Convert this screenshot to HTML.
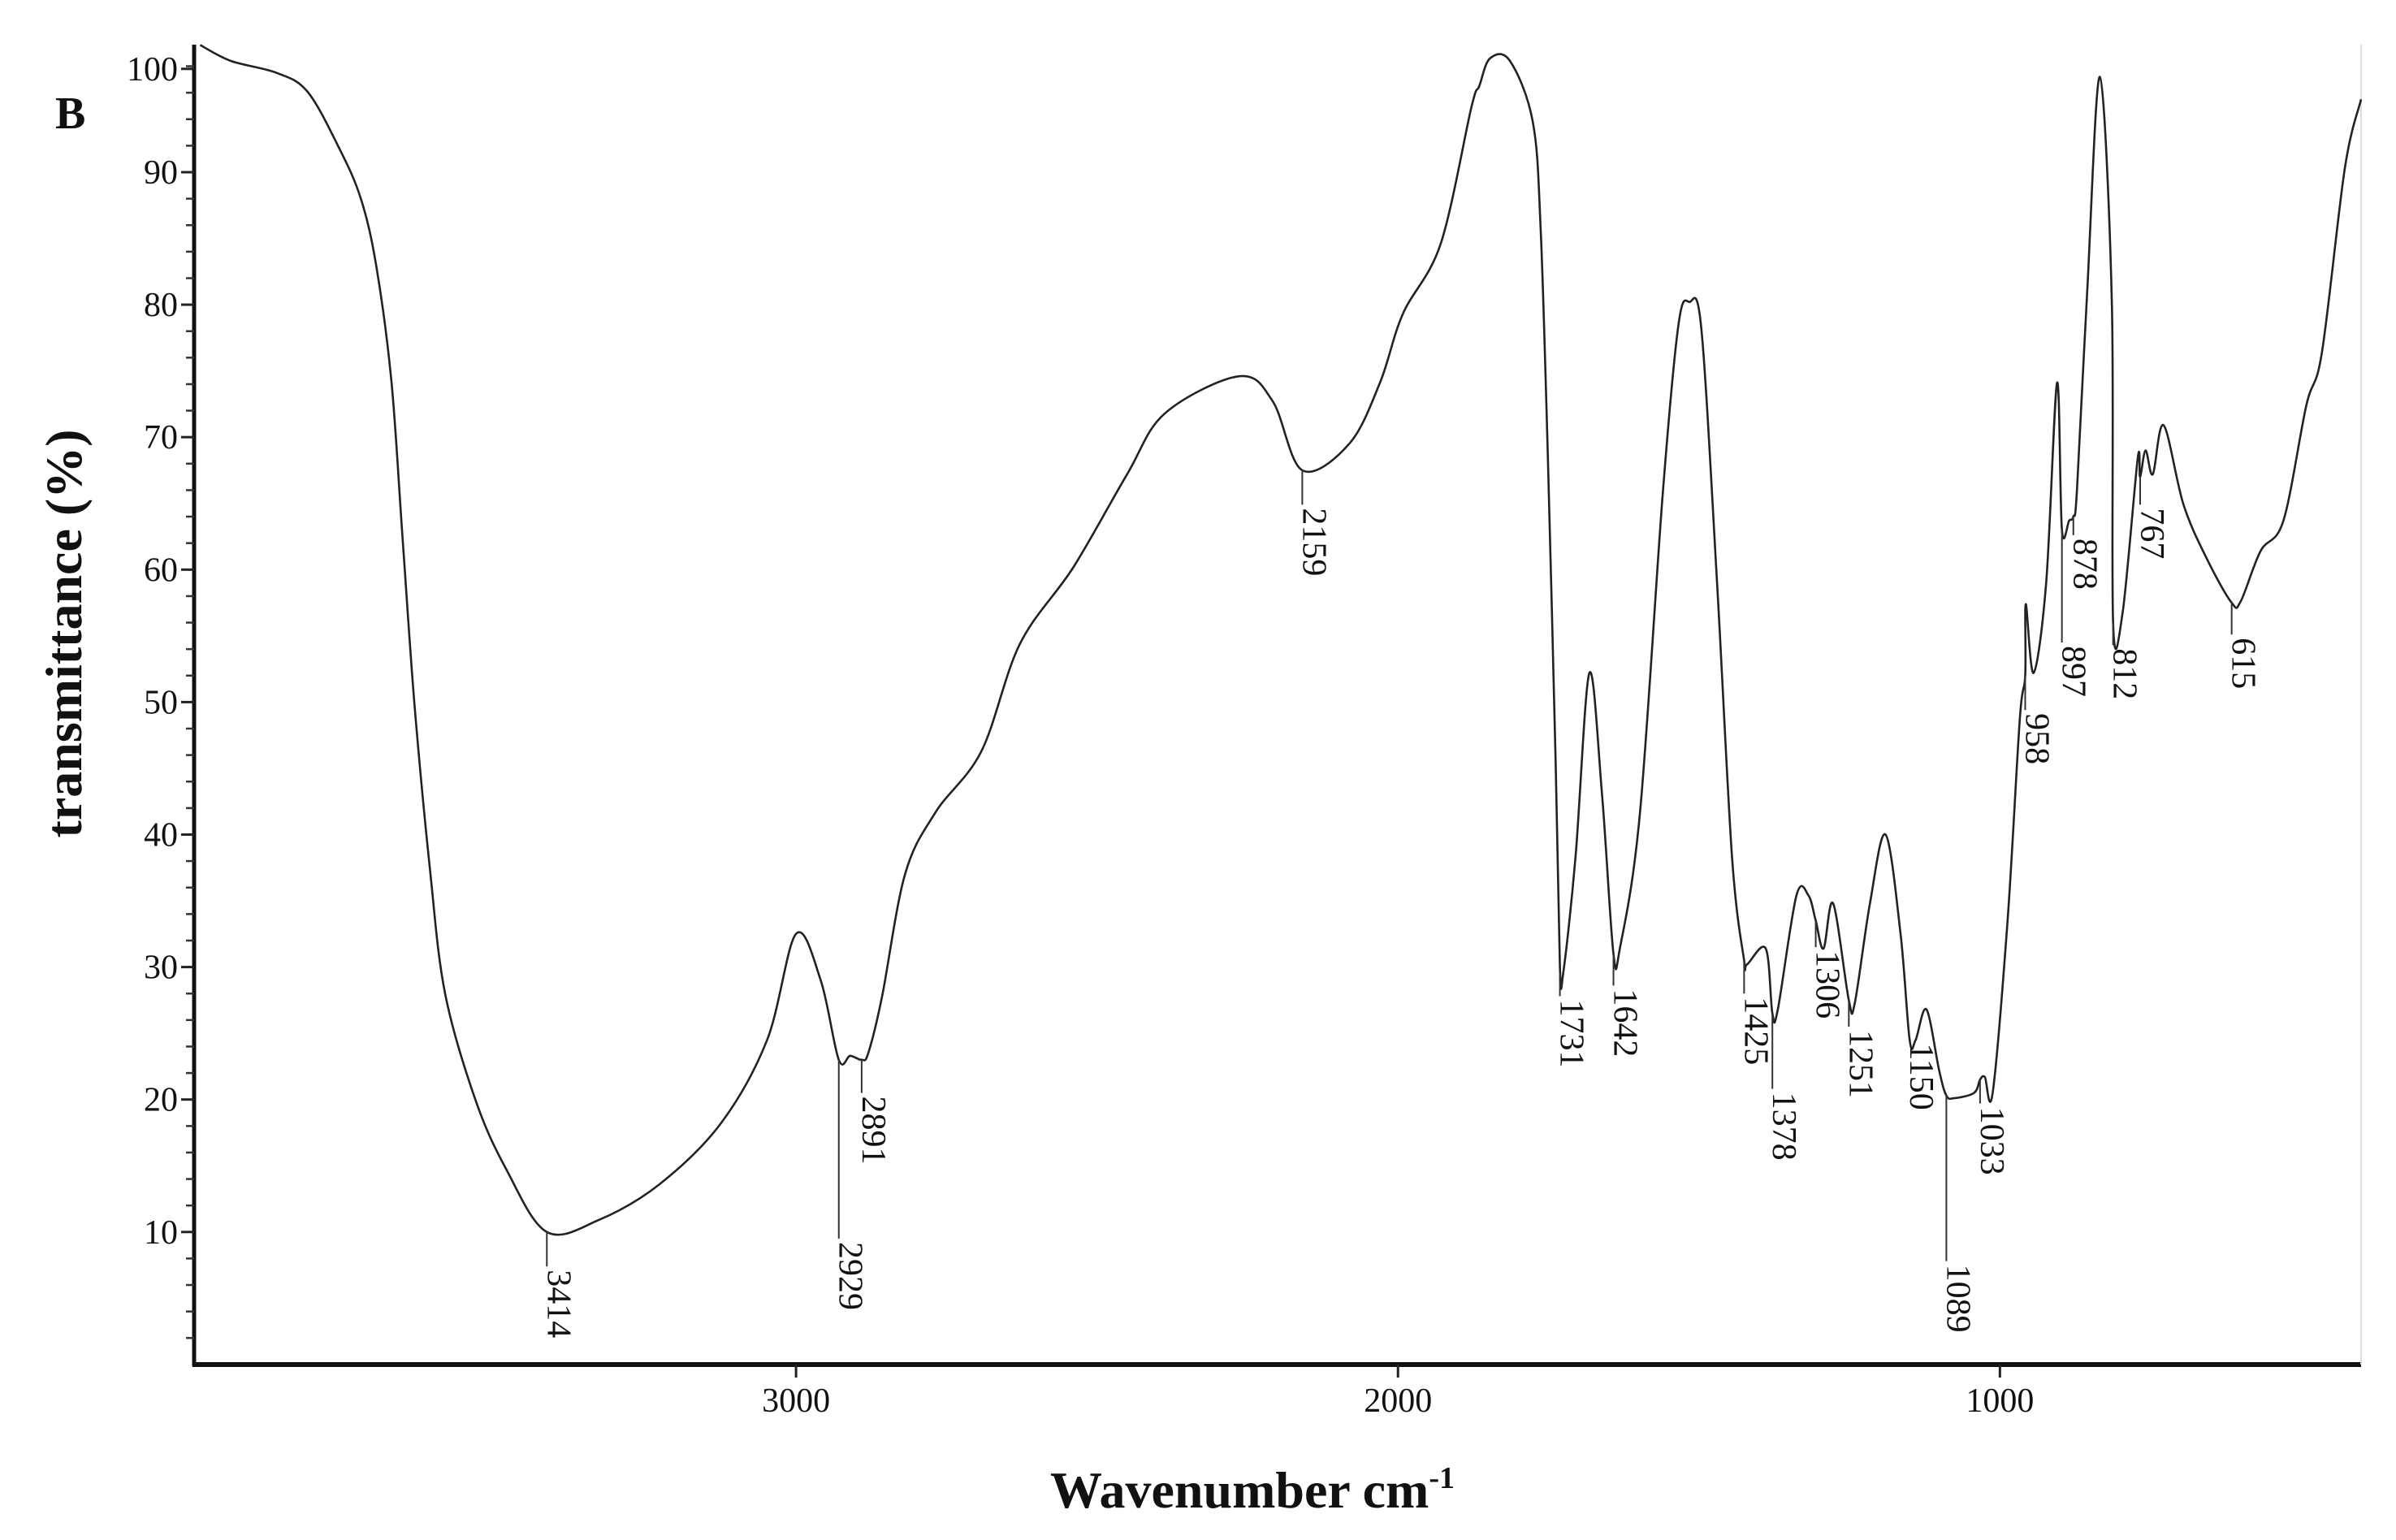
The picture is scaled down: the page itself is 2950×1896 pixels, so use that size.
<!DOCTYPE html>
<html><head><meta charset="utf-8"><style>
html,body{margin:0;padding:0;background:#fff;}
svg{display:block;}
text{font-family:"Liberation Serif",serif;fill:#111;}
</style></head><body>
<svg id="chart" width="2950" height="1896" viewBox="0 0 2950 1896" xmlns="http://www.w3.org/2000/svg">
<rect width="2950" height="1896" fill="#fff"/>
<text x="68" y="158" font-size="56" font-weight="bold">B</text>
<text transform="translate(100,780) rotate(-90)" text-anchor="middle" font-size="64" font-weight="bold">transmittance (%)</text>
<text x="1542" y="1856" text-anchor="middle" font-size="64" font-weight="bold">Wavenumber cm<tspan dy="-24" font-size="38">-1</tspan></text>
<g id="axes"></g>
<g id="marks"></g>
<g id="annots"></g>
</svg>
<script>
const wn = [3990,3939,3863,3812,3761,3723,3697,3672,3654,3634,3608,3583,3532,3481,3414,3328,3227,3125,3048,3000,2959,2929,2910,2891,2880,2857,2819,2768,2692,2628,2539,2450,2387,2264,2208,2159,2081,2030,1992,1929,1878,1865,1847,1814,1776,1763,1751,1738,1731,1725,1705,1682,1661,1642,1631,1598,1560,1534,1516,1496,1470,1445,1425,1420,1389,1378,1369,1338,1318,1306,1293,1277,1251,1241,1216,1190,1165,1150,1140,1122,1101,1089,1076,1043,1033,1025,1012,987,967,958,957,944,923,905,897,885,878,872,855,834,814,812,796,771,767,758,746,728,695,656,615,600,567,529,491,465,427,400];
const trans = [99.6,98.4,97.5,96.1,92.0,88,82.8,74.1,62.6,49.9,37.3,28,19.9,14.7,10,10.9,13.6,18.2,24.5,32.5,29,23,23.3,23,23.5,27.8,37,41.7,46.3,54.4,60.2,67.2,71.8,74.6,72.7,67.5,69.5,74.1,79.3,84.6,94.9,96.5,98.6,98.4,93.8,85.7,68.4,45.3,30,29.7,38.3,52.2,43,31,31.5,41.6,65.8,78.5,80.2,78.2,59.1,38.3,30.5,30.2,31.4,26.5,26.8,35.4,35.4,33.5,31.4,34.8,27.5,27.3,34.8,40,32.5,24.5,24.5,26.8,22.2,20.3,20.1,20.5,21.5,21.7,20.5,33.7,48.7,52,57.4,52.2,59.1,74.1,63,63.7,64,66,81,97.2,80,56,56.8,68.4,67,69,67.2,70.9,64.9,60.8,57.5,57.6,61.4,63.7,72.4,76.4,90.3,95.5];
const peakWn = [3414,2929,2891,2159,1731,1642,1425,1378,1306,1251,1150,1089,1033,958,897,878,812,767,615];
const peakT = [10,23,23,67.5,29.5,31,30.5,26.5,33.5,27.5,24.5,20.3,21.5,52,63,64,56,67,57.5];
const labelT = [7.4,9.5,20.5,64.9,27.8,28.6,28,20.8,31.5,25.5,24.5,7.8,19.7,49.4,54.5,62.6,54.3,64.9,55.1];
const peakLabels = ['3414','2929','2891','2159','1731','1642','1425','1378','1306','1251','1150','1089','1033','958','897','878','812','767','615'];
const xTicks = [3000,2000,1000];
const xTickLabels = ['3000','2000','1000'];
const yTicks = [10,20,30,40,50,60,70,80,90,97.8];
const yTickLabels = ['10','20','30','40','50','60','70','80','90','100'];

const NS='http://www.w3.org/2000/svg';
const L=239,R=2907,B=1680,T0=55;
const X=v=>L+(4000-v)/3600*(R-L);
const Y=v=>212+(90-v)*16.31;
function mk(tag,attrs,parent){const e=document.createElementNS(NS,tag);for(const k in attrs)e.setAttribute(k,attrs[k]);parent.appendChild(e);return e;}
const axes=document.getElementById('axes'),marks=document.getElementById('marks'),ann=document.getElementById('annots');

let e=mk('line',{x1:L,y1:T0,x2:L,y2:B+2,stroke:'#111','stroke-width':5},axes);


e=mk('line',{x1:L-2,y1:B,x2:R,y2:B,stroke:'#111','stroke-width':6},axes);


e=mk('line',{x1:R,y1:T0,x2:R,y2:B,stroke:'#ddd','stroke-width':2},axes);



for(let v=2;v<=98;v+=2){
  if(v%10===0)continue;
  e=mk('line',{x1:L-10,y1:Y(v),x2:L,y2:Y(v),stroke:'#333','stroke-width':2.5},axes);
  
  
}
yTicks.forEach((v,i)=>{
  e=mk('line',{x1:L-16,y1:Y(v),x2:L,y2:Y(v),stroke:'#222','stroke-width':3},axes);
  
  
  const t=mk('text',{x:L-20,y:Y(v)+14,'text-anchor':'end','font-size':42},axes);
  t.textContent=yTickLabels[i];
  
  
});
xTicks.forEach((v,i)=>{
  e=mk('line',{x1:X(v),y1:B,x2:X(v),y2:B+16,stroke:'#222','stroke-width':3},axes);
  
  
  const t=mk('text',{x:X(v),y:B+58,'text-anchor':'middle','font-size':42},axes);
  t.textContent=xTickLabels[i];
  
  
});

const P=wn.map((w,i)=>[X(w),Y(trans[i])]);
let d='M'+P[0][0].toFixed(1)+','+P[0][1].toFixed(1);
for(let i=0;i<P.length-1;i++){
  const p0=P[Math.max(0,i-1)],p1=P[i],p2=P[i+1],p3=P[Math.min(P.length-1,i+2)];
  const c1x=p1[0]+(p2[0]-p0[0])/6,c1y=p1[1]+(p2[1]-p0[1])/6;
  const c2x=p2[0]-(p3[0]-p1[0])/6,c2y=p2[1]-(p3[1]-p1[1])/6;
  d+=' C'+c1x.toFixed(1)+','+c1y.toFixed(1)+' '+c2x.toFixed(1)+','+c2y.toFixed(1)+' '+p2[0].toFixed(1)+','+p2[1].toFixed(1);
}
const pl=mk('path',{d:d,fill:'none',stroke:'#222','stroke-width':2.6,'stroke-linejoin':'round'},marks);



peakWn.forEach((w,i)=>{
  const x=X(w);
  const ln=mk('line',{x1:x,y1:Y(peakT[i]),x2:x,y2:Y(labelT[i]),stroke:'#333','stroke-width':2},ann);
  
  
  const ty=Y(labelT[i])+4;
  const t=mk('text',{transform:'translate('+(x+1)+','+ty+') rotate(90)','font-size':42},ann);
  t.textContent=peakLabels[i];
  
  
});
</script>
</body></html>
